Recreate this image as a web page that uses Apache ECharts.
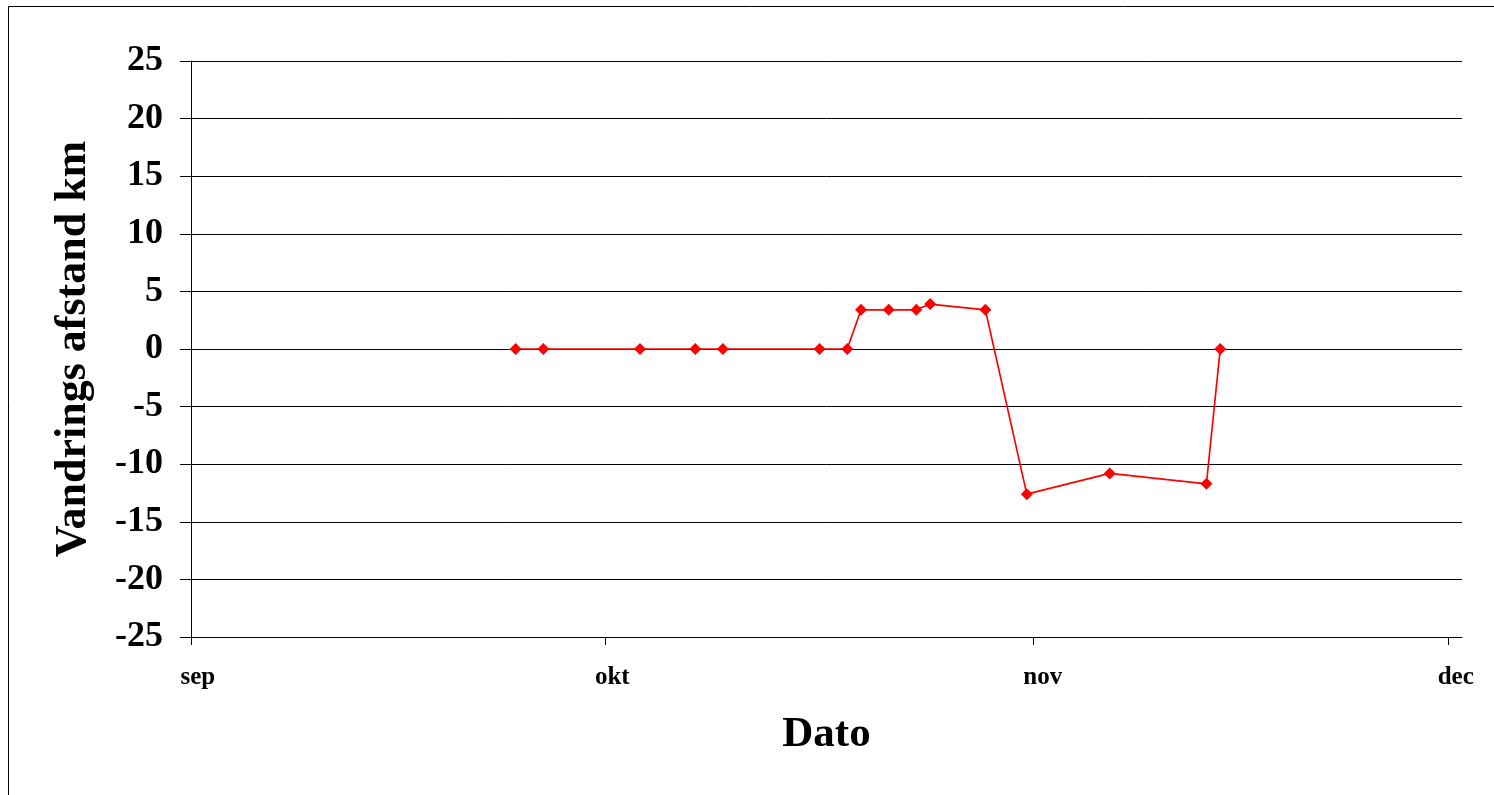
<!DOCTYPE html>
<html>
<head>
<meta charset="utf-8">
<title>Vandrings afstand</title>
<script src="https://cdn.jsdelivr.net/npm/echarts@6/dist/echarts.min.js"></script>
<style>
  html, body { margin: 0; padding: 0; background: #fff; }
  #chart { width: 1494px; height: 795px; }
</style>
</head>
<body>
<div id="chart"></div>
<script>
// Registration dates and migration distance (km) from the starting point
const dates = [
  '2008-09-24 12:00', '2008-09-26 12:00', '2008-10-03 12:00', '2008-10-07 12:00',
  '2008-10-09 12:00', '2008-10-16 12:00', '2008-10-18 12:00', '2008-10-19 12:00',
  '2008-10-21 12:00', '2008-10-23 12:00', '2008-10-24 12:00', '2008-10-28 12:00',
  '2008-10-31 12:00', '2008-11-06 12:00', '2008-11-13 12:00', '2008-11-14 12:00'
];
const distance = [0, 0, 0, 0, 0, 0, 0, 3.4, 3.4, 3.4, 3.9, 3.4, -12.6, -10.8, -11.7, 0];

// Month ticks on the date axis
const monthStarts = ['2008-09-01', '2008-10-01', '2008-11-01', '2008-12-01'];
const monthLabels = ['sep', 'okt', 'nov', 'dec'];
const axisStart = '2008-09-01';
const axisEnd = '2008-12-02';

const yTicks = { min: -25, max: 25, step: 5 };

// Dates are kept as millisecond timestamps on a linear axis
function ts(s) {
  const [d, t] = s.split(' ');
  const [y, m, day] = d.split('-').map(Number);
  const [hh, mm] = (t || '00:00').split(':').map(Number);
  return Date.UTC(y, m - 1, day, hh, mm);
}

const monthTs = monthStarts.map(ts);
const labelOf = {};
monthTs.forEach((v, i) => { labelOf[v] = monthLabels[i]; });

const FONT = '"Liberation Serif", "Times New Roman", serif';

const chart = echarts.init(document.getElementById('chart'), null, { renderer: 'canvas' });

chart.setOption({
  animation: false,
  backgroundColor: '#fff',
  grid: { left: 191, right: 32, top: 61, bottom: 158, containLabel: false },
  xAxis: {
    type: 'value',
    min: ts(axisStart),
    max: ts(axisEnd),
    name: 'Dato',
    nameLocation: 'middle',
    nameGap: 76,
    nameTextStyle: { fontFamily: FONT, fontWeight: 'bold', fontSize: 43, color: '#000' },
    axisLine: { show: true, onZero: false, lineStyle: { color: '#000', width: 1 } },
    axisTick: { show: true, inside: false, length: 8, customValues: monthTs, lineStyle: { color: '#000', width: 1 } },
    axisLabel: {
      show: true,
      customValues: monthTs,
      margin: 28,
      formatter: (v) => '{m|' + (labelOf[v] || '') + '}',
      rich: {
        m: { width: 21, align: 'left', fontFamily: FONT, fontWeight: 'bold', fontSize: 25, color: '#000' }
      },
      showMinLabel: true,
      showMaxLabel: true,
      hideOverlap: false
    },
    splitLine: { show: false },
    minorTick: { show: false }
  },
  yAxis: {
    type: 'value',
    min: yTicks.min,
    max: yTicks.max,
    interval: yTicks.step,
    name: 'Vandrings afstand km',
    nameLocation: 'middle',
    nameGap: 95,
    nameRotate: 90,
    nameTextStyle: { fontFamily: FONT, fontWeight: 'bold', fontSize: 44, color: '#000' },
    axisLine: { show: true, onZero: false, lineStyle: { color: '#000', width: 1 } },
    axisTick: { show: true, inside: false, length: 11, lineStyle: { color: '#000', width: 1 } },
    axisLabel: { margin: 28, padding: [6, 0, 0, 0], fontFamily: FONT, fontWeight: 'bold', fontSize: 36, color: '#000' },
    splitLine: { show: true, lineStyle: { color: '#000', width: 1 } }
  },
  series: [{
    type: 'line',
    data: dates.map((d, i) => [ts(d), distance[i]]),
    symbol: 'diamond',
    symbolSize: 12,
    showAllSymbol: true,
    lineStyle: { color: '#ff0000', width: 1.7 },
    itemStyle: { color: '#ff0000', borderWidth: 0 },
    emphasis: { disabled: true }
  }],
  graphic: [{
    // outer frame round the whole chart area
    type: 'rect',
    x: 0,
    y: 0,
    silent: true,
    shape: { x: 8.5, y: 6.5, width: 1500, height: 800 },
    style: { fill: 'none', stroke: '#000', lineWidth: 1 }
  }]
});
</script>
</body>
</html>
